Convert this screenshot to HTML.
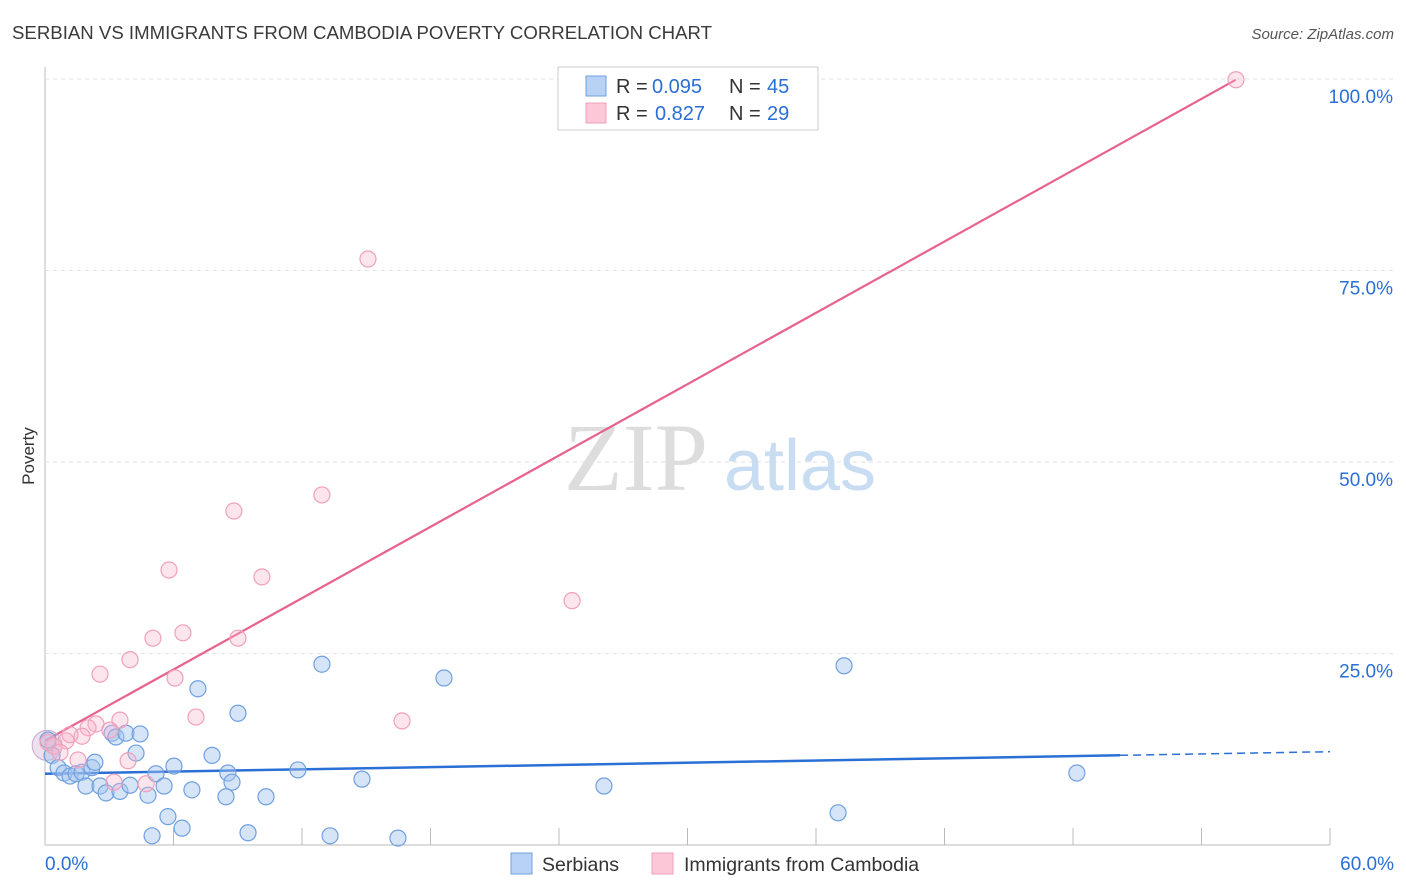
<!DOCTYPE html>
<html><head><meta charset="utf-8"><style>
body{margin:0;background:#fff;font-family:"Liberation Sans",sans-serif;}
</style></head><body>
<svg id="chart" width="1406" height="892" style="display:block">
<text x="12" y="39" font-size="18" fill="#3a3a3a" textLength="700" lengthAdjust="spacingAndGlyphs">SERBIAN VS IMMIGRANTS FROM CAMBODIA POVERTY CORRELATION CHART</text>
<text x="1394" y="39" font-size="15" fill="#555" font-style="italic" text-anchor="end">Source: ZipAtlas.com</text>
<text x="34" y="456" font-size="17" fill="#333" transform="rotate(-90 34 456)" text-anchor="middle">Poverty</text>
<g id="grid"></g>
<g id="watermark">
<text x="636" y="490" font-size="96" fill="#ddd" font-family="Liberation Serif,serif" text-anchor="middle">ZIP</text>
<text x="800" y="490" font-size="72" fill="#c8dcf2" text-anchor="middle">atlas</text>
</g>
<g id="lines"></g>
<g id="points"></g>
<g>
<rect x="558" y="67" width="260" height="63" fill="#fff" stroke="#ccc"/>
<rect x="586" y="76" width="20" height="20" fill="#b8d2f5" stroke="#6fa0e0"/>
<rect x="586" y="103" width="20" height="20" fill="#fcc8d8" stroke="#f0a0bb"/>
<g font-size="20" fill="#333">
<text x="616" y="93">R =</text><text x="652" y="93" fill="#2a6fd6">0.095</text>
<text x="729" y="93">N =</text><text x="767" y="93" fill="#2a6fd6">45</text>
<text x="616" y="120">R =</text><text x="655" y="120" fill="#2a6fd6">0.827</text>
<text x="729" y="120">N =</text><text x="767" y="120" fill="#2a6fd6">29</text>
</g>
</g>
<g>
<rect x="511" y="853" width="21" height="21" fill="#b8d2f5" stroke="#6fa0e0"/>
<text x="542" y="871" font-size="19.5" fill="#333">Serbians</text>
<rect x="652" y="853" width="21" height="21" fill="#fcc8d8" stroke="#f0a0bb"/>
<text x="684" y="871" font-size="19.5" fill="#333">Immigrants from Cambodia</text>
</g>
</svg>
<script>
const xTicks=[0,6,12,18,24,30,36,42,48,54,60];
const yTicks=[25,50,75,100];
const yTickLabels=["25.0%","50.0%","75.0%","100.0%"];
const xLabels=["0.0%","60.0%"];
const serbX=[0.33,0.61,0.89,1.17,1.45,1.73,1.91,2.19,2.33,2.57,2.85,3.13,3.31,3.50,3.78,3.97,4.25,4.44,4.81,5.00,5.18,5.56,5.74,6.02,6.40,6.86,7.14,7.80,8.45,8.54,8.73,9.01,9.48,10.32,11.81,12.93,13.31,14.80,16.48,18.63,26.10,37.03,37.31,48.18,0.14];
const serbY=[11.7,10.1,9.4,9.0,9.3,9.5,7.7,10.1,10.8,7.7,6.8,14.6,14.1,7.0,14.6,7.8,12.0,14.5,6.5,1.2,9.3,7.7,3.7,10.3,2.2,7.2,20.4,11.7,6.3,9.4,8.2,17.2,1.6,6.3,9.8,23.6,1.2,8.6,0.9,21.8,7.7,4.2,23.4,9.4,13.7];
const cambX=[55.61,15.08,12.93,8.82,5.79,10.13,24.61,6.44,5.04,9.01,3.97,2.57,6.07,7.05,3.50,16.67,2.38,2.01,3.03,1.73,0.98,0.42,0.14,1.54,3.88,0.70,3.22,4.72,1.17];
const cambY=[99.9,76.5,45.7,43.6,35.9,35.0,31.9,27.7,27.0,27.0,24.2,22.3,21.8,16.7,16.3,16.2,15.8,15.3,15.0,14.2,13.6,12.9,13.4,11.1,11.0,12.1,8.2,8.0,14.4];
const serbTrend=[9.3,0.048];
const cambTrend=[13.6,1.552];
const X=v=>45+v/60*1285, Y=v=>845-v/100*766;
const NS="http://www.w3.org/2000/svg";
function mk(t,a,p){const e=document.createElementNS(NS,t);for(const k in a)e.setAttribute(k,a[k]);p.appendChild(e);return e;}
const grid=document.getElementById('grid');
const ax=mk('line',{x1:45,y1:67,x2:45,y2:845,stroke:'#bbb'},grid);


const bx=mk('line',{x1:45,y1:845,x2:1330,y2:845,stroke:'#bbb'},grid);


yTicks.forEach((t,i)=>{
 const l=mk('line',{x1:45,y1:Y(t),x2:1394,y2:Y(t),stroke:'#e2e2e2','stroke-dasharray':'4 4'},grid);
 
 
 const tx=mk('text',{x:1393,y:Y(t)+24,'font-size':19,fill:'#2a6fd6','text-anchor':'end'},grid);
 tx.textContent=yTickLabels[i];
 
 
});
xTicks.forEach(t=>{
 const l=mk('line',{x1:X(t),y1:828,x2:X(t),y2:845,stroke:'#bbb'},grid);
 
 
});
[[0,'start',45],[60,'end',1394]].forEach((d,i)=>{
 const tx=mk('text',{x:d[2],y:870,'font-size':19,fill:'#2a6fd6','text-anchor':d[1]},grid);
 tx.textContent=xLabels[i];
 
 
});
const pts=document.getElementById('points');
const big=mk('circle',{cx:X(0.1),cy:Y(13),r:15,fill:'rgba(200,170,200,0.35)',stroke:'#c8a8cc'},pts);


serbX.forEach((x,i)=>{
 const c=mk('circle',{cx:X(x),cy:Y(serbY[i]),r:8,fill:'rgba(164,196,240,0.45)',stroke:'#6fa0e0','stroke-width':1.2},pts);
 
 
});
cambX.forEach((x,i)=>{
 const c=mk('circle',{cx:X(x),cy:Y(cambY[i]),r:8,fill:'rgba(248,180,204,0.35)',stroke:'#f0a0bb','stroke-width':1.2},pts);
 
 
});
const ln=document.getElementById('lines');
const b1=mk('line',{x1:X(0),y1:Y(serbTrend[0]),x2:X(50.2),y2:Y(serbTrend[0]+serbTrend[1]*50.2),stroke:'#2a6fd6','stroke-width':2.5},ln);


const b2=mk('line',{x1:X(50.2),y1:Y(serbTrend[0]+serbTrend[1]*50.2),x2:X(60),y2:Y(serbTrend[0]+serbTrend[1]*60),stroke:'#2a6fd6','stroke-width':1.5,'stroke-dasharray':'8 5'},ln);


const p1=mk('line',{x1:X(0),y1:Y(cambTrend[0]),x2:X(55.6),y2:Y(cambTrend[0]+cambTrend[1]*55.6),stroke:'#e8628e','stroke-width':2.2},ln);


</script>
</body></html>
